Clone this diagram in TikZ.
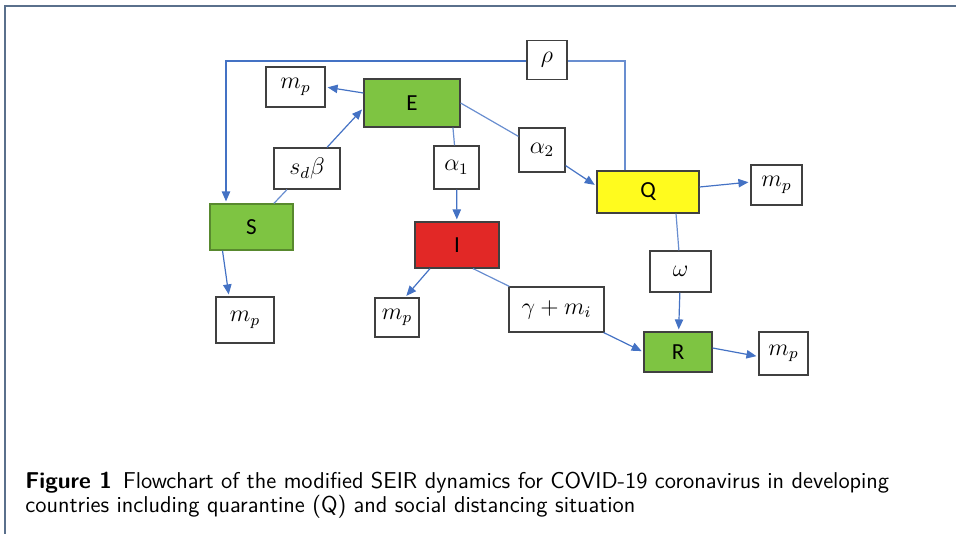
\documentclass[tikz,border=0pt]{standalone}
\usepackage{amsmath}
\usepackage{fontspec}
\newfontfamily\boxfont{Carlito}
\usetikzlibrary{arrows.meta,calc}

\definecolor{flowblue}{RGB}{68,114,196}
\definecolor{framegray}{RGB}{90,112,140}
\definecolor{seirgreen}{RGB}{126,196,66}
\definecolor{seirred}{RGB}{226,40,38}
\definecolor{seiryellow}{RGB}{255,251,30}

\begin{document}
\begin{tikzpicture}[x=0.5pt,y=-0.5pt]
    % `compartment' is used for the S, E, I, Q, R boxes.
    % `rate' is used for the white parameter boxes.
    % `flow' is an arrow, `link' the plain part of a line.
    \tikzstyle{compartment} = [draw=black!75,line width=0.6pt,inner sep=0pt,font=\boxfont\fontsize{11.5}{12}\selectfont]
    \tikzstyle{rate} = [draw=black!75,fill=white,line width=0.6pt,inner sep=0pt,font=\fontsize{11.5}{12}\selectfont]
    \tikzstyle{flow} = [draw=flowblue,line width=0.6pt,-{Triangle[length=5pt,width=4.2pt]},shorten >=1pt]
    \tikzstyle{link} = [draw=flowblue!80,line width=0.6pt]
    \useasboundingbox (0,0) rectangle (956,534);
    % frame of the figure
    \draw[framegray,line width=1pt] (5,534) -- (5,6) -- (956,6);
    %
    \node[compartment,fill=seirgreen,draw=seirgreen!70!black,minimum width=41.5pt,minimum height=23pt] (S) at (251.5,227) {S};
    \node[compartment,fill=seirgreen,minimum width=48pt,minimum height=24pt] (E) at (412,103) {E};
    \node[compartment,fill=seirred,minimum width=42pt,minimum height=23pt] (I) at (457,245) {I};
    \node[compartment,fill=seiryellow,minimum width=51pt,minimum height=21pt] (Q) at (648,192) {Q};
    \node[compartment,fill=seirgreen,minimum width=34pt,minimum height=20pt] (R) at (678,352) {R};
    %
    \node[rate,minimum width=20pt,minimum height=19.5pt] (rho) at (547,60) {$\rho$};
    \node[rate,minimum width=33pt,minimum height=20.5pt] (sdb) at (307,168.5) {$s_d\beta$};
    \node[rate,minimum width=22.5pt,minimum height=21.5pt] (a1) at (456.5,167.5) {$\alpha_1$};
    \node[rate,minimum width=23pt,minimum height=22pt] (a2) at (542,150) {$\alpha_2$};
    \node[rate,minimum width=30.5pt,minimum height=20.5pt] (om) at (680.5,271.5) {$\omega$};
    \node[rate,minimum width=47.5pt,minimum height=22.5pt] (gm) at (556.5,309.5) {$\gamma+m_i$};
    %
    \node[rate,minimum width=29.5pt,minimum height=20pt] (mpE) at (295.5,87) {$m_p$};
    \node[rate,minimum width=29pt,minimum height=23pt] (mpS) at (245,320) {$m_p$};
    \node[rate,minimum width=22pt,minimum height=19.5pt] (mpI) at (397,317.5) {$m_p$};
    \node[rate,minimum width=25.5pt,minimum height=20pt] (mpQ) at (776.5,185) {$m_p$};
    \node[rate,minimum width=24.5pt,minimum height=21.5pt] (mpR) at (783.5,353.5) {$m_p$};
    %
    % infection S -> E through s_d beta
    \draw[link] (S) -- (sdb);
    \draw[flow] ([xshift=10pt]sdb.north) -- ([yshift=-2.5pt]E.west);
    % E -> I and E -> Q
    \draw[link] (E.-31) -- (a1);
    \draw[flow] (a1) -- (I);
    \draw[link] (E.east) -- (a2);
    \draw[flow] (a2) -- ([yshift=3pt]Q.west);
    % I -> R and Q -> R
    \draw[link] ([xshift=8pt]I.south) -- (gm);
    \draw[flow] (gm) -- (R.west);
    \draw[link] ([xshift=14pt]Q.south) -- (om);
    \draw[flow] (om) -- (R);
    % Q back to S through rho
    \draw[link] ([xshift=-11.5pt]Q.north) |- ([yshift=-0.5pt]rho.east);
    \draw[flow] ([yshift=-0.5pt]rho.west) -| ([xshift=-12.75pt]S.north);
    % deaths m_p
    \draw[flow] ([yshift=5pt]E.west) -- (mpE.east);
    \draw[flow] ([xshift=-14.5pt]S.south) -- ([xshift=-8pt]mpS.north);
    \draw[flow] ([xshift=-13.5pt]I.south) -- ([xshift=4pt]mpI.north);
    \draw[flow] ([yshift=2.5pt]Q.east) -- ([yshift=1.5pt]mpQ.west);
    \draw[flow] ([yshift=2pt]R.east) -- ([yshift=-1.5pt]mpR.west);
    %
    \node[anchor=base west,align=left,inner sep=0pt,font=\sffamily\fontsize{11.45}{12}\selectfont] (caption) at (25,512)
      {\textbf{Figure 1}\, Flowchart of the modified SEIR dynamics for COVID-19 coronavirus in developing\\
       countries including quarantine (Q) and social distancing situation};
\end{tikzpicture}
\end{document}
